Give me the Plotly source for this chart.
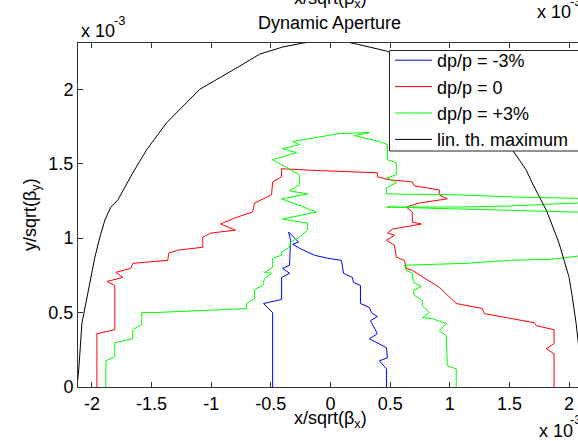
import plotly.graph_objects as go

# Normalised amplitudes x/sqrt(beta_x), y/sqrt(beta_y), in units of 1e-3
# dp/p = -3%
neg_x = [-0.485, -0.485, -0.561, -0.410, -0.410, -0.343, -0.402, -0.343, -0.335, -0.351,
         -0.268, -0.318, -0.259, -0.134, -0.025, 0.092, 0.109, 0.184, 0.192, 0.251,
         0.251, 0.326, 0.343, 0.393, 0.335, 0.393, 0.326, 0.469, 0.477, 0.410, 0.469, 0.469]
neg_y = [0.0, 0.5, 0.561, 0.588, 0.736, 0.764, 0.797, 0.818, 0.986, 1.041,
         0.973, 0.959, 0.932, 0.885, 0.865, 0.851, 0.764, 0.736, 0.703, 0.682,
         0.561, 0.534, 0.5, 0.473, 0.446, 0.358, 0.324, 0.264, 0.196, 0.176, 0.122, 0.0]

# dp/p = 0
zero_x = [-1.958, -1.958, -1.808, -1.808, -1.874, -1.741, -1.799, -1.674, -1.657, -1.364,
          -1.356, -1.280, -1.071, -1.071, -1.004, -0.795, -0.921, -0.803, -0.653, -0.636,
          -0.494, -0.485, -0.410, -0.410, -0.067, 0.134, 0.393, 0.393, 0.494, 0.686,
          0.703, 0.912, 0.912, 0.979, 0.745, 0.636, 0.686, 0.686, 0.762, 0.519,
          0.477, 0.536, 0.469, 0.536, 0.552, 0.619, 0.636, 0.686, 0.912, 1.054,
          1.272, 1.289, 1.707, 1.724, 1.874, 1.874, 1.808, 1.874, 1.874]
zero_y = [0.0, 0.358, 0.385, 0.682, 0.709, 0.736, 0.770, 0.797, 0.831, 0.851,
          0.899, 0.919, 0.939, 1.007, 1.034, 1.054, 1.095, 1.135, 1.176, 1.236,
          1.291, 1.378, 1.412, 1.466, 1.453, 1.446, 1.439, 1.412, 1.392, 1.378,
          1.351, 1.324, 1.291, 1.264, 1.236, 1.209, 1.176, 1.108, 1.095, 1.061,
          1.034, 1.020, 0.986, 0.953, 0.872, 0.851, 0.797, 0.784, 0.669, 0.561,
          0.527, 0.493, 0.432, 0.412, 0.385, 0.291, 0.257, 0.223, 0.0]

# dp/p = +3% (some particles wander far out in x before returning)
pos_x = [-1.883, -1.883, -1.808, -1.808, -1.657, -1.657, -1.582, -1.582, -1.473, -0.703,
         -0.703, -0.636, -0.636, -0.569, -0.552, -0.494, -0.552, -0.485, -0.485, -0.410,
         -0.410, -0.343, -0.335, -0.259, -0.192, -0.192, -0.402, -0.117, -0.410, -0.192,
         -0.343, -0.259, -0.259, -0.485, -0.285, -0.402, -0.259, -0.318, 0.075, 0.326,
         0.201, 0.410, 0.477, 0.477, 0.552, 0.552, 0.477, 0.552, 0.469, 0.469,
         1.079, 1.498, 1.916, 2.400,
         2.400, 2.067, 1.498, 1.079, 0.469,
         1.079, 1.498, 1.916, 2.400,
         2.300, 2.067, 1.849, 1.498, 1.138, 0.619,
         0.636, 0.686, 0.695, 0.762, 0.695, 0.703, 0.770, 0.770, 0.828, 0.770,
         0.854, 0.971, 0.912, 0.971, 0.979, 1.054, 1.054]
pos_y = [0.0, 0.176, 0.203, 0.297, 0.324, 0.385, 0.419, 0.5, 0.5, 0.527,
         0.561, 0.595, 0.655, 0.682, 0.730, 0.764, 0.770, 0.804, 0.865, 0.885,
         0.905, 0.939, 0.973, 1.007, 1.054, 1.101, 1.128, 1.176, 1.264, 1.297,
         1.318, 1.358, 1.426, 1.527, 1.574, 1.601, 1.628, 1.649, 1.703, 1.709,
         1.689, 1.649, 1.628, 1.527, 1.507, 1.426, 1.405, 1.372, 1.338, 1.297,
         1.291, 1.277, 1.270, 1.262,
         1.240, 1.236, 1.216, 1.209, 1.209,
         1.196, 1.189, 1.176, 1.168,
         0.950, 0.878, 0.858, 0.851, 0.831, 0.818,
         0.784, 0.764, 0.703, 0.676, 0.649, 0.615, 0.581, 0.547, 0.5, 0.466,
         0.459, 0.426, 0.378, 0.345, 0.142, 0.122, 0.0]

# linear-theory maximum amplitude
lin_x = [-2.125, -2.109, -2.084, -2.050, -2.017, -1.975, -1.933, -1.891, -1.841, -1.782,
         -1.657, -1.540, -1.372, -1.238, -1.096, -0.762, -0.594, -0.402, -0.234, 0.0,
         0.218, 0.469, 0.762, 1.096, 1.238, 1.372, 1.523, 1.640, 1.690, 1.749,
         1.808, 1.858, 1.916, 1.958, 2.000, 2.025, 2.059, 2.100, 2.125]
lin_y = [0.0, 0.128, 0.426, 0.561, 0.696, 0.872, 1.007, 1.122, 1.209, 1.257,
         1.439, 1.595, 1.777, 1.885, 2.000, 2.155, 2.236, 2.284, 2.310, 2.340,
         2.304, 2.257, 2.155, 2.000, 1.885, 1.777, 1.595, 1.459, 1.372, 1.277,
         1.189, 1.088, 0.966, 0.851, 0.736, 0.615, 0.426, 0.130, 0.0]

series = [
    ("dp/p = -3%", neg_x, neg_y, "#0000ff"),
    ("dp/p = 0", zero_x, zero_y, "#ff0000"),
    ("dp/p = +3%", pos_x, pos_y, "#00ff00"),
    ("lin. th. maximum", lin_x, lin_y, "#000000"),
]

x_ticks = [-2, -1.5, -1, -0.5, 0, 0.5, 1, 1.5, 2]
x_tick_text = ["-2", "-1.5", "-1", "-0.5", "0", "0.5", "1", "1.5", "2"]
y_ticks = [0, 0.5, 1, 1.5, 2]
y_tick_text = ["0", "0.5", "1", "1.5", "2"]

W, H = 578, 441
ML, MR, MT, MB = 78, 0, 43, 54
FONT = "Liberation Sans, Arial, Helvetica, sans-serif"
FS = 18

fig = go.Figure()
for name, xs, ys, col in series:
    fig.add_trace(go.Scatter(x=xs, y=ys, mode="lines", name=name,
                             line=dict(color=col, width=1)))


def fx(p):
    return (p - ML) / (W - ML - MR)


def fy(p):
    return (H - MB - p) / (H - MT - MB)


def label(text, x, y, size=FS, xanchor="center", yanchor="middle", angle=0):
    fig.add_annotation(text=text, x=fx(x), y=fy(y), xref="paper", yref="paper",
                       xanchor=xanchor, yanchor=yanchor, showarrow=False,
                       textangle=angle, font=dict(size=size, color="black", family=FONT))


label("Dynamic Aperture", 329, 23)
label("x/sqrt(β<sub>x</sub>)", 330, -1)
label("x/sqrt(β<sub>x</sub>)", 330, 419)
label("y/sqrt(β<sub>y</sub>)", 31, 215, angle=-90)
label("x 10", 79, 31, xanchor="left")
label("-3", 112, 20, size=13, xanchor="left")
label("x 10", 535, 12, xanchor="left")
label("-3", 568, 1, size=13, xanchor="left")
label("x 10", 537, 431, xanchor="left")
label("-3", 568, 419, size=13, xanchor="left")

# legend frame (white box, open to the right edge)
fig.add_shape(type="rect", xref="paper", yref="paper",
              x0=fx(389.5), x1=fx(620), y0=fy(151), y1=fy(50.5),
              line=dict(color="#222", width=1), fillcolor="white", layer="above")

axis_common = dict(ticks="inside", ticklen=5, tickcolor="#333", showline=True,
                   linecolor="#333", linewidth=1, showgrid=False, zeroline=False,
                   tickfont=dict(size=FS, color="black", family=FONT), automargin=False)

fig.update_layout(
    width=W, height=H,
    margin=dict(l=ML, r=MR, t=MT, b=MB, pad=0),
    paper_bgcolor="white", plot_bgcolor="white",
    font=dict(family=FONT, size=FS, color="black"),
    xaxis=dict(range=[-2.1165, 2.0746], tickvals=x_ticks, ticktext=x_tick_text,
               mirror="ticks", **axis_common),
    yaxis=dict(range=[0, 2.311], tickvals=y_ticks, ticktext=y_tick_text,
               mirror=False, **axis_common),
    showlegend=True,
    legend=dict(x=fx(390), y=fy(42), xanchor="left", yanchor="top",
                bgcolor="rgba(0,0,0,0)", borderwidth=0, itemwidth=37,
                font=dict(size=FS, color="black", family=FONT), tracegroupgap=0),
)

fig.write_html("out.html")
